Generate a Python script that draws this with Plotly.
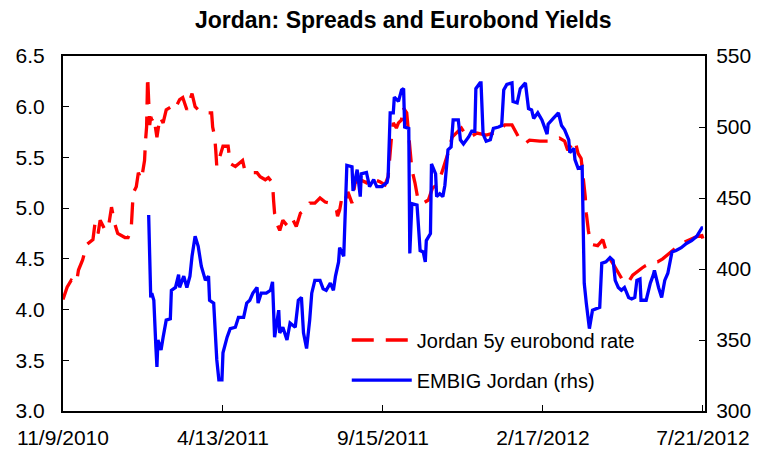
import datetime as dt
import plotly.graph_objects as go

start = dt.date(2010, 11, 9)

# Jordan 5y eurobond rate (left axis, %), days since 11/9/2010
eb_days = [0, 4, 8, 13, 15, 19, 23, 29, 31, 34, 36, 41, 44, 47, 50, 53, 60, 63, 66, 67, 68, 71, 73, 76,
           79, 80, 81, 82, 83, 84, 85, 86, 88, 91, 94, 97, 100, 105, 108, 113, 116, 120, 125, 128, 131,
           136, 140, 144, 145, 147, 148, 149, 152, 155, 160, 162, 167, 170, 174, 176, 181, 184, 188, 191,
           196, 199, 203, 204, 205, 207, 210, 213, 217, 222, 223, 226, 230, 234, 239, 244, 249, 254, 259,
           262, 265, 266, 268, 271, 275, 276, 280, 283, 288, 294, 297, 302, 307, 312, 315, 318, 320, 323,
           325, 328, 329, 333, 336, 338, 341, 344, 349, 354, 358, 363, 368, 373, 377, 386, 389, 394, 401,
           410, 421, 428, 435, 439, 443, 448, 452, 462, 472, 481, 486, 489, 496, 499, 502, 506, 507, 509,
           511, 513, 518, 523, 527, 533, 538, 544, 549, 552, 561, 564, 570, 576, 581, 588, 594, 601, 607,
           614, 619, 620]
eb_vals = [4.10, 4.22, 4.29, 4.26, 4.39, 4.49, 4.64, 4.69, 4.85, 4.75, 4.88, 4.78, 4.81, 5.01, 4.85, 4.75,
           4.71, 4.71, 4.78, 4.95, 5.15, 5.21, 5.35, 5.28,
           5.47, 5.67, 5.80, 6.30, 6.04, 5.82, 5.90, 5.87, 5.90, 5.70, 5.90, 5.84, 5.97, 6.00, 5.97, 6.07,
           6.09, 5.97, 6.13, 6.00, 5.97,
           5.97, 5.94, 5.94, 5.80, 5.70, 5.57, 5.41, 5.51, 5.61, 5.61, 5.44, 5.41, 5.44, 5.47, 5.38, 5.38,
           5.35, 5.35, 5.31,
           5.28, 5.30, 5.25, 5.08, 4.95, 4.85, 4.78, 4.88, 4.83, 4.82, 4.88, 4.82, 4.95, 4.98, 5.05, 5.05,
           5.10, 5.06, 5.05,
           5.01, 4.98, 4.92, 4.98, 5.15, 5.10, 5.16, 5.05, 5.25, 5.28, 5.25, 5.30, 5.28, 5.26, 5.23, 5.31,
           5.67, 5.84, 5.79,
           5.84, 5.87, 6.00, 5.94, 5.61, 5.38, 5.25, 5.08, 5.05, 5.08, 5.20, 5.23, 5.38, 5.54, 5.70, 5.79,
           5.74, 5.70, 5.74,
           5.72, 5.75, 5.82, 5.82, 5.74, 5.67, 5.64, 5.67, 5.66, 5.66, 5.69, 5.66, 5.57, 5.67, 5.54, 5.49,
           5.11, 4.95, 4.78,
           4.66, 4.64, 4.63, 4.69, 4.55, 4.45, 4.37, 4.26, 4.29, 4.34, 4.41, 4.43, 4.46, 4.47, 4.50, 4.56,
           4.61, 4.66, 4.69,
           4.72, 4.73, 4.70]

# EMBIG Jordan spread (right axis, bp), days since 11/9/2010
em_days = [83, 84, 85, 86, 88, 90, 91, 92, 95, 97, 100, 104, 105, 109, 112, 113, 117, 120, 123, 125, 128,
           131, 134, 138, 141, 142, 146, 149, 151, 154, 155, 159, 162, 167, 170, 175, 178, 181, 184, 188,
           189, 192, 197, 201, 203, 205, 209, 210, 213, 217, 220, 225, 228, 231, 233, 236, 239, 241, 244,
           249, 252, 255, 259, 262, 264, 267, 268, 272, 273, 274, 275, 280, 281, 285, 288, 289, 294, 297,
           301, 304, 309, 314, 315, 317, 320, 321, 325, 328, 330, 331, 335, 336, 338, 343, 346, 349, 351,
           352, 356, 357, 361, 362, 365, 368, 370, 373, 376, 378, 383, 385, 388, 393, 396, 399, 400, 404,
           405, 407, 410, 414, 417, 422, 425, 427, 430, 435, 436, 440, 443, 448, 451, 454, 456, 460, 464,
           469, 470, 475, 480, 483, 486, 490, 491, 495, 496, 499, 503, 504, 505, 507, 510, 513, 520, 522,
           526, 530, 533, 535, 538, 541, 544, 548, 551, 554, 556, 559, 560, 565, 569, 572, 573, 577, 580,
           583, 586, 590, 594, 599, 604, 609, 614, 619, 620]
em_vals = [438, 406, 380, 383, 378, 345, 331, 350, 343, 352, 364, 365, 385, 387, 396, 387, 395, 387, 395,
           409, 423,
           416, 402, 392, 395, 378, 376, 336, 322, 322, 341, 352, 358, 359, 366, 366, 376, 378, 383, 387,
           376, 383, 383, 385, 391, 352, 371, 355, 359, 350, 362, 359, 378, 380, 355, 344, 364, 383, 392,
           392, 386, 385, 390, 385, 395, 405, 415, 409, 432, 458, 473, 472, 455, 470, 451, 467, 468, 458,
           463, 458, 458, 461, 465, 510, 510, 521, 518, 526, 527, 500, 499, 411, 446, 445, 413, 412, 405,
           420, 425, 474, 467, 451, 453, 451, 459, 484, 486, 505, 505, 491, 488, 493, 497, 497, 527, 531,
           531, 495, 490, 491, 499, 500, 501, 526, 530, 531, 518, 517, 527, 531, 513, 512, 506, 510, 505,
           495, 502, 506, 510, 501, 498, 491, 482, 485, 477, 471, 472, 430, 390, 376, 358, 371, 373, 404,
           405, 408, 406, 392, 387, 385, 387, 380, 379, 380, 392, 393, 378, 378, 390, 396, 399, 387, 380,
           392, 397, 412, 413, 415, 418, 420, 423, 429, 429]

tick_days = [0, 155, 310, 465, 620]
tick_labels = ["11/9/2010", "4/13/2011", "9/15/2011", "2/17/2012", "7/21/2012"]


def to_dates(days):
    return [start + dt.timedelta(days=d) for d in days]


FONT = "Liberation Sans, Arial, sans-serif"

fig = go.Figure()
fig.add_trace(go.Scatter(
    x=to_dates(eb_days), y=eb_vals, mode="lines", name="Jordan 5y eurobond rate", showlegend=True,
    line=dict(color="#ff0000", width=3.3, dash="22px,12px"), yaxis="y", legend="legend"))
fig.add_trace(go.Scatter(
    x=to_dates(em_days), y=em_vals, mode="lines", name="EMBIG Jordan (rhs)", showlegend=True,
    line=dict(color="#0000ff", width=3.3), yaxis="y2", legend="legend2"))

axis_common = dict(ticks="inside", ticklen=6, tickcolor="black", showline=True, linecolor="black",
                   linewidth=2, showgrid=False, zeroline=False, automargin=False,
                   tickfont=dict(size=21, family=FONT))

fig.update_layout(
    width=774, height=449,
    margin=dict(l=63, r=69, t=56, b=38),
    paper_bgcolor="white", plot_bgcolor="white",
    showlegend=True,
    font=dict(family=FONT, size=20, color="black"),
    title=dict(text="<b>Jordan: Spreads and Eurobond Yields</b>", x=0.521, xanchor="center",
               y=0.955, yanchor="middle", font=dict(size=23, family=FONT, color="black")),
    xaxis=dict(range=[start, start + dt.timedelta(days=622)], tickvals=to_dates(tick_days),
               ticktext=tick_labels, mirror=True, ticklabelstandoff=7, **axis_common),
    yaxis=dict(range=[3.0, 6.5], tickvals=[3.0, 3.5, 4.0, 4.5, 5.0, 5.5, 6.0, 6.5], tickformat=".1f",
               mirror=True, ticklabelstandoff=12, **axis_common),
    yaxis2=dict(range=[300, 550], tickvals=[300, 350, 400, 450, 500, 550], overlaying="y",
                side="right", ticklabelstandoff=5, **axis_common),
    legend=dict(x=0.442, y=0.2, xanchor="left", yanchor="middle", bgcolor="rgba(0,0,0,0)",
                font=dict(size=20, family=FONT), itemwidth=60),
    legend2=dict(x=0.442, y=0.087, xanchor="left", yanchor="middle", bgcolor="rgba(0,0,0,0)",
                 font=dict(size=20, family=FONT), itemwidth=60),
)

fig.write_html("out.html", config={"displayModeBar": False},
               post_script="document.body.style.margin='0px';")
